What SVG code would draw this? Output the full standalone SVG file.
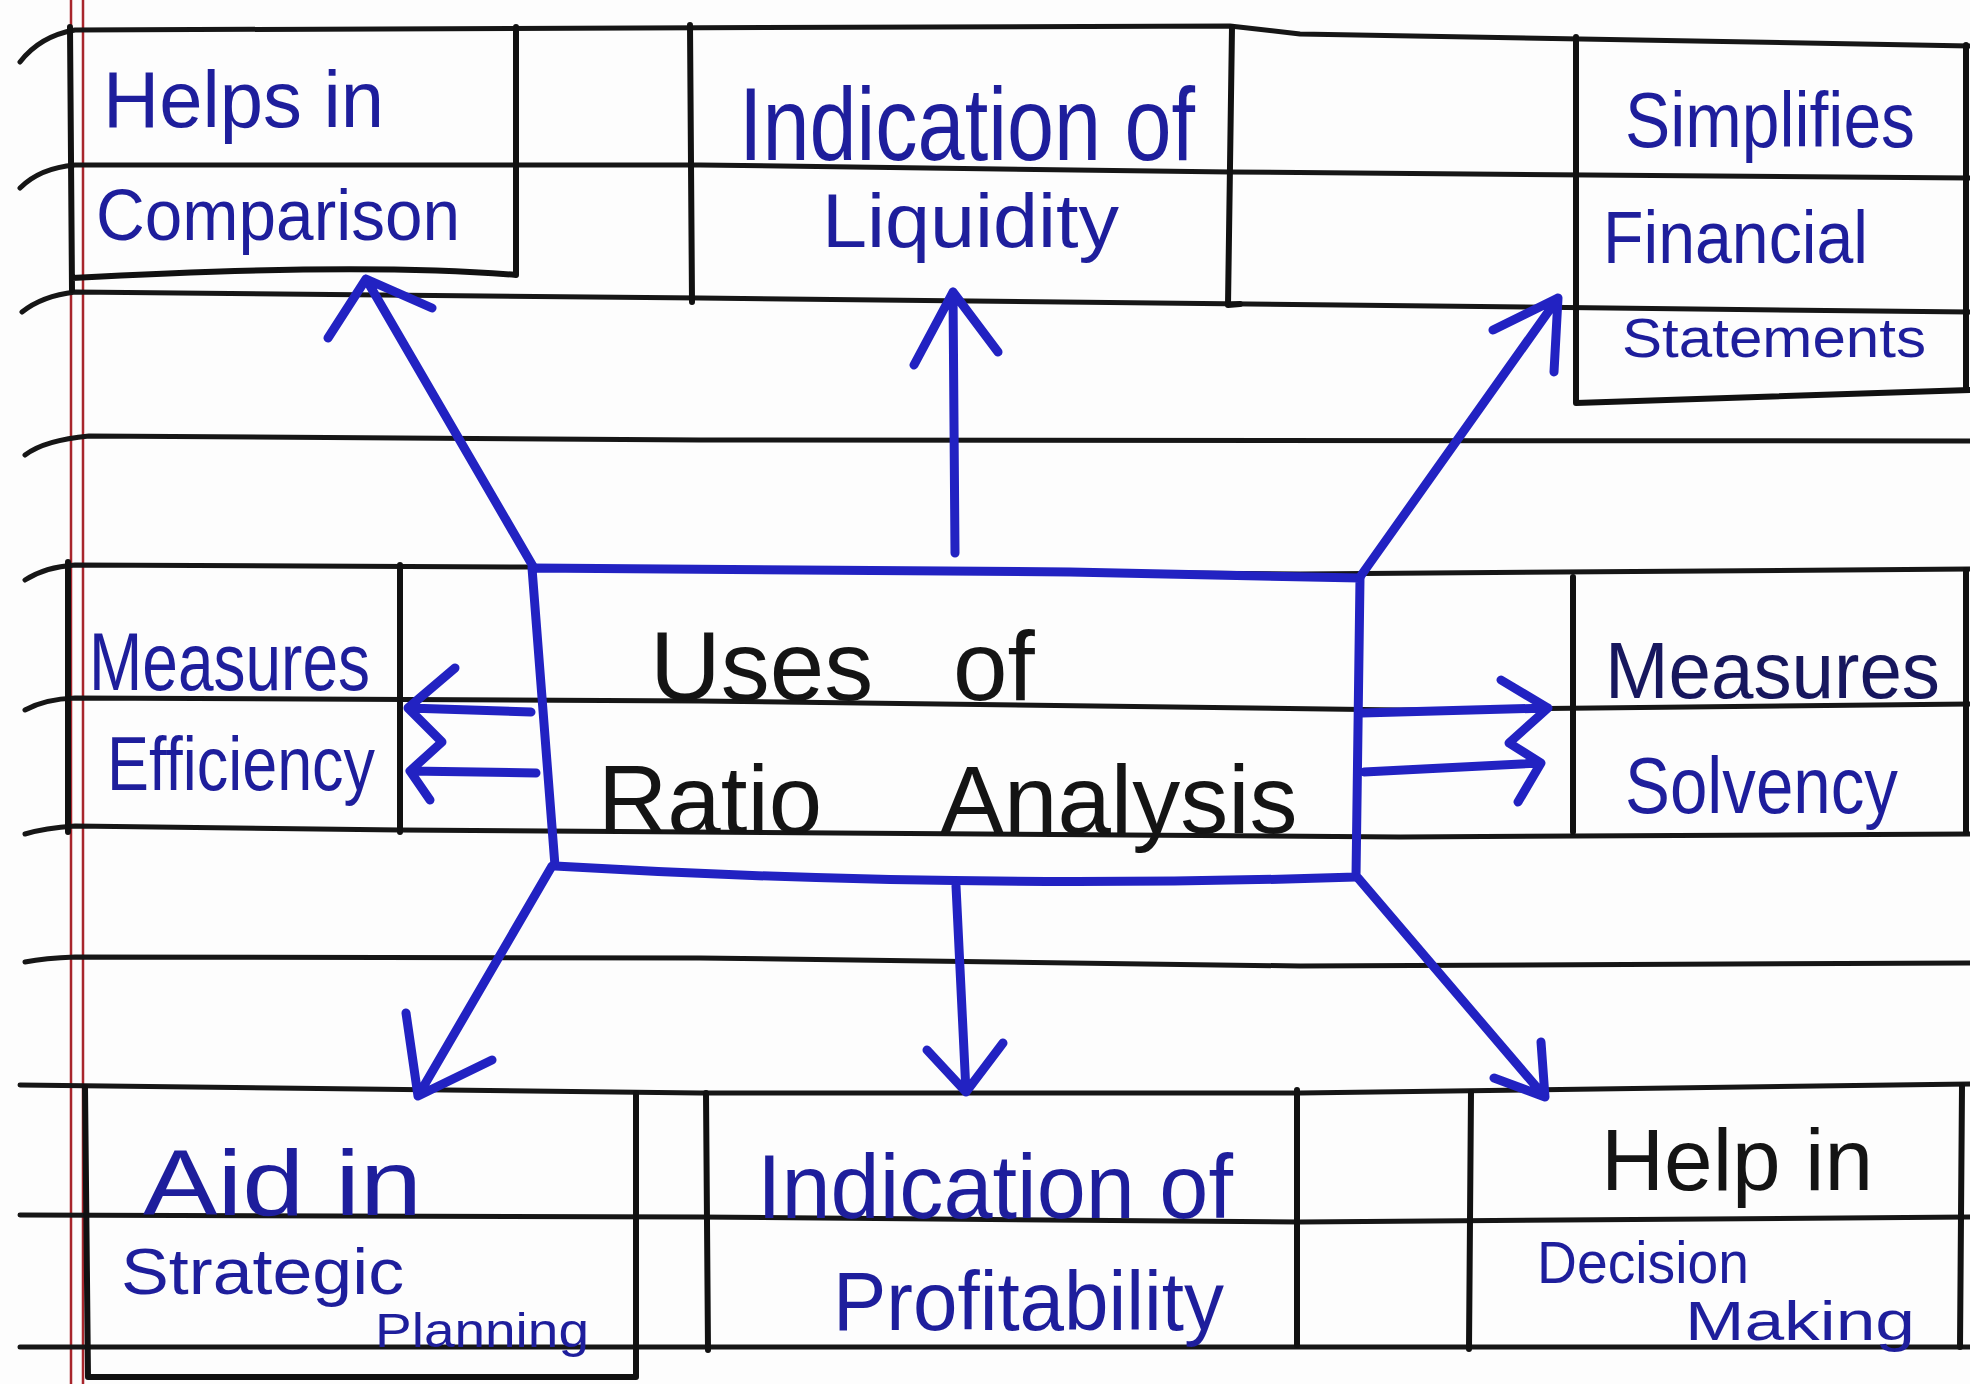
<svg xmlns="http://www.w3.org/2000/svg" width="1970" height="1384" viewBox="0 0 1970 1384">
<style>
.rule{stroke:#161616;stroke-width:5;fill:none;stroke-linecap:round;stroke-linejoin:round}
.box{stroke:#111;stroke-width:6;fill:none;stroke-linecap:round;stroke-linejoin:round}
.margin{stroke:#a8262c;stroke-width:2.5;fill:none}
.ink{stroke:#2222c2;stroke-width:9;fill:none;stroke-linecap:round;stroke-linejoin:round}
.t{font-family:"Liberation Sans",Arial,sans-serif;fill:#1e1e9c}
.k{fill:#141414}
</style>
<rect width="1970" height="1384" fill="#fdfdfd"/>
<g id="paper">
<path class="margin" d="M71,0 L71,1384 M83,0 L83,1384"/>
<path class="rule" d="M20,62 Q40,36 75,30 L1230,26 L1300,34 L1970,46"/>
<path class="rule" d="M20,188 Q40,168 75,165 L700,165 L1230,172 L1970,178"/>
<path class="rule" d="M22,312 Q42,296 75,292 L700,298 L1970,312"/>
<path class="rule" d="M25,455 Q45,440 89,436 L700,440 L1970,441"/>
<path class="rule" d="M25,580 Q45,567 75,565 L530,567 L1300,574 L1970,569"/>
<path class="rule" d="M25,710 Q45,699 75,698 L700,701 L1400,710 L1970,704"/>
<path class="rule" d="M25,834 Q45,828 75,826 L400,830 L1400,837 L1970,834"/>
<path class="rule" d="M25,962 Q45,958 75,957 L700,958 L1300,966 L1970,963"/>
<path class="rule" d="M20,1085 L700,1093 L1300,1093 L1970,1084"/>
<path class="rule" d="M20,1215 L700,1217 L1300,1222 L1970,1217"/>
<path class="rule" d="M20,1347 L1970,1347"/>
</g>
<g id="node-comparison">
<path class="box" d="M70,27 L72,290 M516,27 L516,275 M72,278 Q360,262 516,275"/>
<text class="t" x="103" y="127" font-size="80" textLength="281" lengthAdjust="spacingAndGlyphs">Helps in</text>
<text class="t" x="96" y="240" font-size="72" textLength="364" lengthAdjust="spacingAndGlyphs">Comparison</text>
</g>
<g id="node-liquidity">
<path class="box" d="M690,25 L692,302 M1232,27 L1228,305 L1240,304"/>
<text class="t" x="739" y="160" font-size="104" textLength="456" lengthAdjust="spacingAndGlyphs">Indication of</text>
<text class="t" x="822" y="247" font-size="76" textLength="297" lengthAdjust="spacingAndGlyphs">Liquidity</text>
</g>
<g id="node-simplifies">
<path class="box" d="M1576,37 L1576,403 L1970,390 M1966,45 L1966,390"/>
<text class="t" x="1625" y="147" font-size="78" textLength="290" lengthAdjust="spacingAndGlyphs">Simplifies</text>
<text class="t" x="1603" y="263" font-size="74" textLength="265" lengthAdjust="spacingAndGlyphs">Financial</text>
<text class="t" x="1622" y="357" font-size="56" textLength="304" lengthAdjust="spacingAndGlyphs">Statements</text>
</g>
<g id="node-efficiency">
<path class="box" d="M68,562 L68,832 M400,565 L400,832"/>
<text class="t" x="89" y="690" font-size="82" textLength="281" lengthAdjust="spacingAndGlyphs">Measures</text>
<text class="t" x="107" y="790" font-size="76" textLength="268" lengthAdjust="spacingAndGlyphs">Efficiency</text>
</g>
<g id="node-center">
<path class="ink" d="M532,568 L1070,572 L1360,578 L1356,877 Q960,890 555,866 Z"/>
<text class="t k" x="650" y="700" font-size="98"><tspan x="650">Uses</tspan><tspan x="953">of</tspan></text>
<text class="t k" x="598" y="833" font-size="96"><tspan x="598">Ratio</tspan><tspan x="940">Analysis</tspan></text>
</g>
<g id="node-solvency">
<path class="box" d="M1573,577 L1573,832 M1966,570 L1966,832"/>
<text class="t" x="1605" y="698" font-size="80" textLength="335" lengthAdjust="spacingAndGlyphs" style="fill:#17175e">Measures</text>
<text class="t" x="1625" y="813" font-size="80" textLength="273" lengthAdjust="spacingAndGlyphs">Solvency</text>
</g>
<g id="node-strategic">
<path class="box" d="M85,1087 L88,1377 L636,1377 L636,1093"/>
<text class="t" x="143" y="1215" font-size="92" textLength="279" lengthAdjust="spacingAndGlyphs">Aid in</text>
<text class="t" x="121" y="1294" font-size="64" textLength="283" lengthAdjust="spacingAndGlyphs">Strategic</text>
<text class="t" x="375" y="1347" font-size="48" textLength="214" lengthAdjust="spacingAndGlyphs">Planning</text>
</g>
<g id="node-profitability">
<path class="box" d="M706,1093 L708,1350 M1297,1090 L1297,1345"/>
<text class="t" x="757" y="1218" font-size="90" textLength="476" lengthAdjust="spacingAndGlyphs">Indication of</text>
<text class="t" x="833" y="1330" font-size="84" textLength="391" lengthAdjust="spacingAndGlyphs">Profitability</text>
</g>
<g id="node-decision">
<path class="box" d="M1471,1092 L1469,1349 M1962,1086 L1960,1347"/>
<text class="t k" x="1601" y="1190" font-size="88" textLength="272" lengthAdjust="spacingAndGlyphs">Help in</text>
<text class="t" x="1537" y="1283" font-size="60" textLength="212" lengthAdjust="spacingAndGlyphs">Decision</text>
<text class="t" x="1685" y="1340" font-size="56" textLength="230" lengthAdjust="spacingAndGlyphs">Making</text>
</g>
<g id="connectors">
<path class="ink" d="M534,568 L366,279 M328,338 L366,279 L432,308"/>
<path class="ink" d="M955,553 L953,292 M914,365 L953,292 L998,352"/>
<path class="ink" d="M1360,577 L1558,298 M1493,330 L1558,298 L1554,372"/>
<path class="ink" d="M531,712 L408,708 M455,668 L408,708 L442,742 L410,771 L430,800 M536,773 L410,771"/>
<path class="ink" d="M1362,713 L1548,708 M1501,680 L1548,708 L1509,743 L1541,763 L1518,802 M1364,772 L1541,763"/>
<path class="ink" d="M552,866 L418,1096 M406,1013 L418,1096 L492,1060"/>
<path class="ink" d="M956,886 L966,1092 M927,1050 L966,1092 L1003,1043"/>
<path class="ink" d="M1358,878 L1545,1097 M1541,1042 L1545,1097 L1494,1078"/>
</g>
</svg>
